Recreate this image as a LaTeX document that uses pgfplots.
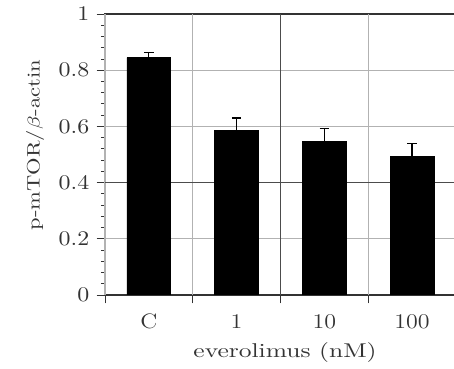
\documentclass[border=0pt]{standalone}
\usepackage{pgfplots}
\pgfplotsset{compat=1.18}
\pgfplotstableread{
x y ey
0 0.845 0.018
1 0.585 0.045
2 0.546 0.047
3 0.492 0.048
}\datatable
\begin{document}
\begin{tikzpicture}
\path[use as bounding box] (-55.3pt,-38.9pt) rectangle (183.7pt,155.3pt);
\begin{axis}[
  at={(0,0)}, anchor=south west,
  scale only axis, width=184.7pt, height=147.9pt,
  xmin=-0.5, xmax=3.5, ymin=0, ymax=1,
  axis line style={black!80, line width=0.6pt},
  tick align=outside, tick pos=left,
  major tick length=4.4pt, minor tick length=2.2pt,
  tick style={black!80, line width=0.5pt},
  xtick={0,1,2,3}, xticklabels={C,1,10,100},
  major x tick style={draw=none},
  extra x ticks={-0.5,0.5,1.5,2.5}, extra x tick labels={},
  extra x tick style={grid=major, major x tick style={draw=black!80, line width=0.5pt}},
  ytick={0,0.2,0.4,0.6,0.8,1}, minor y tick num=4,
  ymajorgrids,
  major grid style={black!30, line width=0.6pt},
  ticklabel style={font=\fontsize{11}{13}\selectfont, xscale=1.15, text=black!80},
  yticklabel style={anchor=east, inner sep=0pt, xshift=-3.2pt},
  xticklabel style={anchor=base, inner sep=0pt, yshift=-13.5pt},
  xlabel={everolimus (nM)},
  xlabel style={at={(axis description cs:0.513,-0.206)}, anchor=center, font=\fontsize{10.5}{12}\selectfont, xscale=1.28, text=black!80},
  ylabel={p-mTOR/$\beta$-actin},
  ylabel style={at={(axis description cs:-0.199,0.533)}, anchor=center, font=\fontsize{9.5}{11}\selectfont, xscale=1.25, text=black!80},
]
\draw[black!70, line width=0.6pt] (axis cs:1.5,0) -- (axis cs:1.5,1);
\draw[black!70, line width=0.6pt] (axis cs:-0.5,0.4) -- (axis cs:3.5,0.4);
\addplot[ybar, bar width=0.5, fill=black, draw=black, bar shift=0pt,
  error bars/.cd, y dir=plus, y explicit,
  error bar style={black, line width=0.6pt},
  error mark options={rotate=90, mark size=2.45pt, black, line width=0.6pt}]
  table[x=x, y=y, y error=ey] {\datatable};
\end{axis}
\end{tikzpicture}
\end{document}
